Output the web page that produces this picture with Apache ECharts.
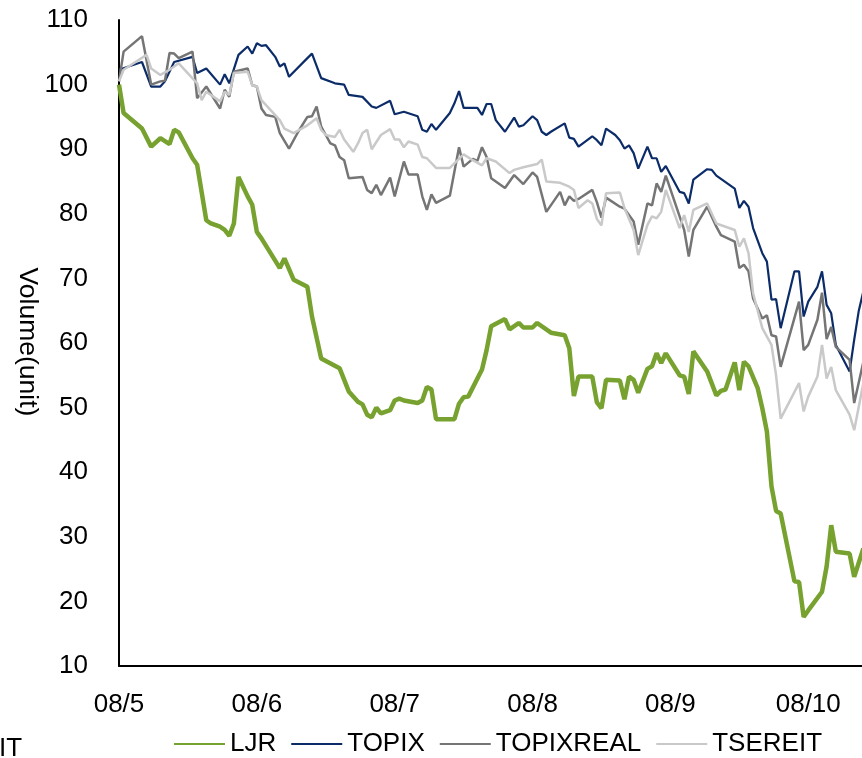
<!DOCTYPE html>
<html>
<head>
<meta charset="utf-8">
<title>LJR vs TOPIX indices, 2008</title>
<script src="https://cdn.jsdelivr.net/npm/echarts@6/dist/echarts.min.js"></script>
<style>
  html, body { margin: 0; padding: 0; background: #fff; }
  #chart { width: 862px; height: 758px; }
</style>
</head>
<body>
<div id="chart"></div>
<script>
// Index levels (start = 100), 2008, month-day of each reading
const YEAR = 2008;

const ljrDates = ['05-01','05-02','05-06','05-08','05-10','05-12','05-13','05-14','05-17','05-18','05-20','05-21','05-23','05-24','05-25','05-26','05-27','05-29','05-30','05-31','06-01','06-05','06-06','06-08','06-11','06-12','06-14','06-18','06-20','06-22','06-23','06-24','06-25','06-26','06-27','06-29','06-30','07-01','07-02','07-05','07-06','07-07','07-08','07-09','07-13','07-14','07-15','07-16','07-19','07-20','07-21','07-24','07-25','07-27','07-28','07-30','07-31','08-03','08-06','08-07','08-08','08-09','08-12','08-13','08-14','08-15','08-18','08-19','08-20','08-21','08-22','08-24','08-25','08-26','08-27','08-28','08-31','09-01','09-02','09-03','09-06','09-08','09-09','09-10','09-12','09-13','09-14','09-15','09-17','09-18','09-19','09-20','09-21','09-22','09-25','09-26','09-27','09-28','10-01','10-02','10-03','10-04','10-07','10-08','10-10'];
const ljrValues = [100,95.6,93.2,90.4,91.7,90.8,93,92.6,88.6,87.6,79,78.5,78,77.5,76.6,78.5,85.7,82.7,81.4,77.2,76.2,71.6,73.1,69.8,68.7,64.1,57.6,56.1,52.5,50.9,50.5,48.9,48.5,50,49.1,49.6,51.1,51.4,51.1,50.7,51.1,53.2,52.8,48.2,48.2,50.6,51.6,51.7,55.9,58.9,62.6,63.7,62.1,63.1,62.4,62.4,63.1,61.6,61.2,59.2,51.8,54.8,54.8,50.8,49.9,54.3,54.2,51.3,54.8,54.3,52.3,56,56.4,58.4,56.9,58.4,55,54.8,52.1,58.7,55.6,51.9,52.6,52.8,57,52.7,57.1,56.4,53,49.9,46.3,37.8,34,33.6,23.1,23,17.6,18.6,21.5,25.4,31.8,27.7,27.4,23.8,28.2];

const topixDates = ['05-01','05-06','05-08','05-10','05-11','05-13','05-17','05-18','05-20','05-23','05-24','05-25','05-27','05-29','05-30','05-31','06-01','06-02','06-04','06-05','06-06','06-07','06-11','06-12','06-14','06-17','06-19','06-20','06-23','06-25','06-26','06-29','06-30','07-02','07-05','07-06','07-07','07-08','07-09','07-12','07-13','07-14','07-15','07-18','07-19','07-20','07-21','07-22','07-24','07-26','07-27','07-28','07-30','07-31','08-01','08-02','08-03','08-06','08-07','08-08','08-09','08-12','08-13','08-14','08-15','08-17','08-18','08-19','08-20','08-21','08-22','08-24','08-25','08-26','08-27','08-28','08-31','09-01','09-02','09-03','09-06','09-07','09-08','09-12','09-13','09-14','09-15','09-16','09-18','09-19','09-20','09-21','09-22','09-25','09-26','09-27','09-28','09-30','10-01','10-02','10-03','10-04','10-07','10-08','10-09','10-10'];
const topixValues = [102.3,103.5,99.7,99.7,100.5,103.5,104.3,101.8,102.5,100,101.6,100.2,104.6,105.9,104.8,106.4,106,106.1,104.3,102.8,103.3,101.2,104.1,104.8,101,100.2,100,98.4,98.1,96.6,96.4,97.5,95.4,95.8,95.1,93,92.7,93.9,93,95.6,97.1,99,96.4,96.4,95.3,97,97,94.5,92.7,94.9,93.5,93.7,95.1,94.5,92.7,92.2,92.7,94,91.8,91.6,90.4,92,91.4,90.6,93.2,92.2,91.4,90.1,90.6,89.4,87,90.4,88.6,88.6,86.5,87.4,83.4,83.2,81.6,85.3,86.9,86.8,85.9,83.9,80.9,82,81.1,77.8,73.9,72.6,66.7,66.8,62.3,71.1,71.1,64.1,66.4,68.7,71.1,65.9,64.6,59.7,55.6,60.5,65,68];

const realDates = ['05-01','05-02','05-06','05-08','05-10','05-11','05-12','05-13','05-14','05-17','05-18','05-20','05-23','05-24','05-25','05-26','05-29','05-30','05-31','06-01','06-02','06-04','06-05','06-07','06-09','06-11','06-12','06-13','06-14','06-15','06-16','06-17','06-18','06-19','06-20','06-23','06-24','06-25','06-26','06-27','06-29','06-30','07-02','07-03','07-05','07-06','07-07','07-08','07-09','07-12','07-14','07-15','07-17','07-18','07-19','07-20','07-21','07-24','07-26','07-28','07-30','07-31','08-02','08-05','08-06','08-07','08-08','08-09','08-12','08-13','08-14','08-15','08-18','08-19','08-21','08-22','08-24','08-25','08-26','08-27','08-28','09-01','09-02','09-03','09-06','09-08','09-09','09-12','09-13','09-14','09-15','09-16','09-18','09-19','09-20','09-21','09-22','09-26','09-27','09-28','09-30','10-01','10-02','10-03','10-04','10-07','10-08','10-10'];
const realValues = [100.5,105.1,107.5,100,100.5,100.6,104.9,104.8,104.1,105.1,97.9,99.7,96.3,99.2,98.1,102,102.5,99.9,99.7,96.3,95.3,95,92.5,90.1,92.7,95,95.1,96.6,93.5,92.2,90.9,90.6,88.8,88.3,85.5,85.7,83.7,83.2,84.5,82.9,85.6,82.7,88.1,86.1,86.1,82.7,80.6,83,81.7,82.8,90.3,87.3,88.5,88.2,90.3,88.8,85.5,84,86,84.6,86.4,85.7,80.3,83.4,81.3,82.7,82,82.3,83.7,81.8,79.4,82.5,81.1,80.8,78.8,75.2,81.6,81.3,84.7,83.4,85.9,77.5,73.4,77.5,81.1,78,76.7,75.7,71.6,72.1,71.1,66.9,63.8,64.3,61.2,61,56.3,66.4,58.9,59.7,63.6,67.8,60.6,62.5,59.4,57.4,50.7,57.1];

const reitDates = ['05-01','05-02','05-07','05-08','05-10','05-12','05-14','05-18','05-19','05-20','05-23','05-24','05-25','05-26','05-29','05-30','05-31','06-01','06-05','06-06','06-08','06-11','06-13','06-14','06-15','06-17','06-18','06-19','06-21','06-22','06-23','06-24','06-25','06-27','06-29','06-30','07-01','07-02','07-03','07-05','07-06','07-07','07-09','07-12','07-15','07-17','07-19','07-20','07-22','07-25','07-26','07-28','07-31','08-01','08-02','08-05','08-07','08-08','08-09','08-11','08-12','08-13','08-14','08-15','08-18','08-19','08-21','08-22','08-24','08-25','08-26','08-27','08-28','08-31','09-01','09-02','09-03','09-06','09-08','09-12','09-13','09-14','09-15','09-16','09-18','09-20','09-21','09-22','09-26','09-27','09-28','09-30','10-01','10-02','10-03','10-04','10-07','10-08','10-10'];
const reitValues = [100.5,102.3,104.6,102.5,101.5,102.3,103.3,100.2,97.6,98.9,97.4,98.9,98.4,101.8,102,99.9,99.7,97.6,94.5,93.2,92.5,93.7,94.8,93,92.2,91.9,93,91.5,89.6,90.9,92.5,93,90,92.2,93.1,91.5,91.5,90.3,91.2,90.7,88.8,88.6,87.1,87.1,89.2,88.3,87.5,88.6,88.1,86.3,86.8,87.2,87.7,88.4,85,84.8,84.2,83.7,80.9,82.1,81.6,79.2,78.2,83.2,83.3,80.9,77.5,73.6,78.3,79.6,79.3,80.3,83.7,77.8,79.8,77.2,80.6,81.6,78.5,77.5,74.9,76.2,73.9,67.7,62.3,59.7,55,48.3,53.8,49.4,51.7,54.8,59.7,54.5,56.3,52.7,48.9,46.5,53.8];

// Axis ticks (dates) and their labels
const tickDates = ['05-01','05-31','06-30','07-30','08-29','09-28'];
const tickLabels = ['08/5','08/6','08/7','08/8','08/9','08/10'];

const seriesNames = ['LJR','TOPIX','TOPIXREAL','TSEREIT'];
const seriesColors = ['#78a22f','#0b2c68','#757575','#c9c9c9'];
const seriesWidths = [4.5, 2.2, 2.5, 2.5];

// x positions are whole days counted from the first reading (May 1)
const DAY = 86400000;
const ORIGIN = new Date(YEAR, 4, 1).getTime();
function dayIndex(md) {
  const [m, d] = md.split('-').map(Number);
  return Math.round((new Date(YEAR, m - 1, d).getTime() - ORIGIN) / DAY);
}
function pairs(dates, values) {
  const n = Math.min(dates.length, values.length);
  const out = [];
  for (let i = 0; i < n; i++) out.push([dayIndex(dates[i]), values[i]]);
  return out;
}

const seriesData = [
  pairs(ljrDates, ljrValues),
  pairs(topixDates, topixValues),
  pairs(realDates, realValues),
  pairs(reitDates, reitValues)
];

const tickDays = tickDates.map(dayIndex);
const FONT = '"Liberation Sans", Arial, sans-serif';

// the plotted window stops a little before the last reading (open right edge)
const X_END = 161.7;

const chart = echarts.init(document.getElementById('chart'), null, { renderer: 'canvas' });

chart.setOption({
  animation: false,
  backgroundColor: '#ffffff',
  grid: { left: 119, top: 20, right: 0, height: 646, containLabel: false },
  xAxis: {
    type: 'value',
    min: 0,
    max: X_END,
    axisLine: { show: true, onZero: false, lineStyle: { color: '#000', width: 2 } },
    axisTick: { show: false },
    splitLine: { show: false },
    axisLabel: {
      customValues: tickDays,
      margin: 26,
      fontSize: 26,
      fontFamily: FONT,
      color: '#000',
      formatter: function (v) {
        const i = tickDays.indexOf(Math.round(v));
        return i >= 0 ? tickLabels[i] : '';
      }
    }
  },
  yAxis: {
    type: 'value',
    min: 10,
    max: 110,
    interval: 10,
    axisLine: { show: true, lineStyle: { color: '#000', width: 2 } },
    axisTick: { show: false },
    splitLine: { show: false },
    axisLabel: { margin: 31, fontSize: 26, fontFamily: FONT, color: '#000' }
  },
  legend: {
    data: seriesNames,
    left: 173,
    top: 731,
    padding: 0,
    itemWidth: 51,
    itemHeight: 14,
    itemGap: 14,
    itemStyle: { opacity: 0 },
    textStyle: { fontSize: 26, fontFamily: FONT, color: '#000' }
  },
  graphic: [
    {
      type: 'text',
      x: 27,
      y: 342,
      rotation: -Math.PI / 2,
      style: {
        text: 'Volume(unit)',
        font: '26.5px ' + FONT,
        fill: '#000',
        align: 'center',
        verticalAlign: 'middle'
      }
    },
    {
      type: 'text',
      x: -1,
      y: 749,
      style: {
        text: 'IT',
        font: '26px ' + FONT,
        fill: '#000',
        align: 'left',
        verticalAlign: 'middle'
      }
    }
  ],
  series: seriesNames.map(function (name, i) {
    return {
      name: name,
      type: 'line',
      data: seriesData[i],
      symbol: 'none',
      showSymbol: false,
      smooth: false,
      color: seriesColors[i],
      lineStyle: { color: seriesColors[i], width: seriesWidths[i] },
      z: 2 + i
    };
  })
});
</script>
</body>
</html>
